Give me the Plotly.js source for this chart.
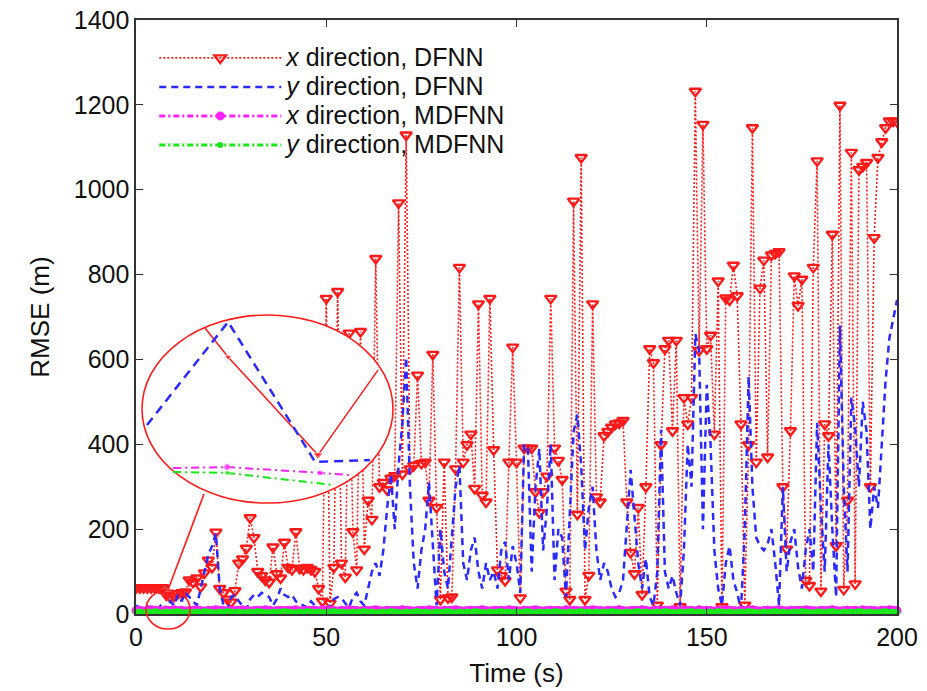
<!DOCTYPE html>
<html>
<head>
<meta charset="utf-8">
<script src="https://cdn.plot.ly/plotly-3.0.1.min.js"></script>
<style>html,body{margin:0;padding:0;background:#fff;}#chart{width:927px;height:691px;}</style>
</head>
<body>
<div id="chart"></div>
<script>
// Time axis: one sample per second, 0..200 s
const timeSec = Array.from({length: 201}, (_, i) => i);

// x direction, DFNN (RMSE, m)
const xDFNN = [
  62,62,62,62,62,62,62,62,45,40,
  42,48,50,52,80,75,85,64,97,127,
  110,193,60,50,35,28,55,120,130,155,
  227,180,100,90,80,75,158,95,85,169,
  110,105,194,108,105,110,105,100,60,30,
  744,25,110,760,120,87,662,194,104,666,
  153,268,223,838,300,310,293,320,326,969,
  330,1129,342,350,563,355,358,268,612,251,
  34,358,38,40,342,817,358,399,424,296,
  731,280,264,744,387,104,90,79,358,629,
  358,38,391,391,391,288,239,288,325,744,
  391,362,317,54,34,973,235,1076,34,91,
  731,276,264,420,430,440,448,450,456,264,
  145,95,251,46,300,625,592,21,399,625,
  645,432,645,17,510,448,510,1232,621,1154,
  625,657,424,785,17,745,740,822,750,448,
  21,399,1146,358,768,834,370,846,850,854,
  300,153,432,797,727,789,79,67,817,1068,
  54,448,420,895,161,1199,58,268,1088,71,
  1047,1055,1064,300,887,1076,1113,1146,1162,1162,
  1160
];

// y direction, DFNN (RMSE, m)
const yDFNN = [
  20,15,10,18,12,8,15,25,10,30,
  20,45,30,50,40,30,20,60,100,140,
  160,190,60,20,10,40,45,30,20,10,
  35,45,40,50,45,40,20,35,60,45,
  40,45,30,25,20,15,30,20,10,5,
  2,20,35,40,38,25,15,40,50,30,
  20,60,100,120,90,150,250,330,200,350,
  450,605,300,120,60,150,200,310,150,20,
  200,100,60,180,300,350,120,80,150,180,
  100,60,120,80,100,60,150,170,80,160,
  120,50,400,390,100,300,390,150,250,400,
  80,200,180,40,250,430,470,350,150,250,
  300,150,80,120,100,60,40,50,80,200,
  340,230,120,60,130,40,20,100,434,100,
  60,90,50,20,150,400,300,660,620,200,
  540,400,150,60,20,120,160,80,50,10,
  200,560,300,180,160,150,165,200,120,20,
  300,100,170,200,110,60,150,200,100,450,
  250,100,400,200,40,680,300,100,510,440,
  300,500,430,200,300,250,400,550,650,700,
  740
];

// x direction, MDFNN (RMSE, m)
const xMDFNN = [
  8,9,7,8,10,9,8,7,9,8,10,8,9,7,8,9,10,8,7,9,
  8,10,9,8,7,9,8,9,10,8,7,8,9,8,10,9,7,8,9,8,
  9,8,10,7,8,9,8,9,7,10,8,9,8,7,9,8,10,9,8,7,
  9,8,9,10,8,7,9,8,9,8,10,9,8,7,8,9,8,10,9,8,
  7,9,8,9,10,8,7,8,9,8,9,10,8,7,9,8,9,8,10,9,
  8,7,9,8,9,10,8,7,8,9,8,9,7,10,8,9,8,7,9,8,
  10,9,8,7,9,8,9,10,8,7,8,9,8,10,9,7,8,9,8,9,
  8,10,7,8,9,8,9,7,10,8,9,8,7,9,8,10,9,8,7,9,
  8,9,10,8,7,8,9,8,9,10,8,7,9,8,9,8,10,9,8,7,
  9,8,9,10,8,7,8,9,8,9,7,10,8,9,8,7,9,8,10,9,
  8
];

// y direction, MDFNN (RMSE, m)
const yMDFNN = [
  5,6,4,6,5,7,5,4,6,5,6,7,5,4,6,5,6,5,7,6,
  5,4,6,5,7,6,5,6,4,5,6,5,7,6,5,4,6,5,6,7,
  6,5,4,6,5,7,6,5,6,4,5,6,7,5,6,5,4,6,5,6,
  7,5,6,4,5,6,5,7,6,5,4,6,5,6,7,5,6,4,5,6,
  5,6,7,5,4,6,5,6,5,7,6,5,4,6,5,6,7,5,6,4,
  6,5,6,7,5,4,6,5,6,5,7,6,5,4,6,5,6,7,5,6,
  4,6,5,6,5,7,6,5,4,6,5,6,7,5,6,4,5,6,5,7,
  6,5,4,6,5,6,7,5,6,5,4,6,5,7,6,5,6,4,5,6,
  5,7,6,5,4,6,5,6,7,5,6,4,5,6,5,7,6,5,4,6,
  6,5,6,7,5,4,6,5,6,5,7,6,5,6,4,5,6,7,5,6,
  5
];

// Magnified inset (zoom lens), in inset-relative units 0..100
const insetRedX = [25.1, 34.3, 70.1, 94.0];
const insetRedY = [93.1, 77.7, 25.5, 70.7];
const insetBlueX = [2.0, 34.3, 69.0, 90.8];
const insetBlueY = [41.5, 96.3, 21.8, 22.9];
const insetMagX = [12.4, 33.9, 70.9, 82.9];
const insetMagY = [18.6, 19.1, 16.0, 14.9];
const insetGreenX = [12.4, 33.9, 76.1];
const insetGreenY = [16.5, 16.0, 9.6];

const names = [
  '<i>x</i> direction, DFNN',
  '<i>y</i> direction, DFNN',
  '<i>x</i> direction, MDFNN',
  '<i>y</i> direction, MDFNN'
];
const legendName = s => '<span style="font-size:25px">' + s + '</span>';

const RED = '#ff1a1a', BLUE = '#2a2aff', MAG = '#ff22ff', GRN = '#18e818';
const FONT = 'Liberation Sans, Arial, Helvetica, sans-serif';

const traces = [
  {x: timeSec, y: xDFNN, name: legendName(names[0]), type: 'scatter', mode: 'lines+markers',
   line: {color: RED, width: 1.6, dash: '2px,2px'},
   marker: {symbol: 'triangle-down-open', size: 10, color: RED, line: {color: RED, width: 2.4}}},
  {x: timeSec, y: yDFNN, name: legendName(names[1]), type: 'scatter', mode: 'lines',
   line: {color: BLUE, width: 2.5, dash: '7px,5px'}},
  {x: timeSec, y: xMDFNN, name: legendName(names[2]), type: 'scatter', mode: 'lines+markers', cliponaxis: false,
   line: {color: MAG, width: 3, dash: '6px,3px,2px,3px'},
   marker: {symbol: 'circle', size: 9, color: MAG}},
  {x: timeSec, y: yMDFNN, name: legendName(names[3]), type: 'scatter', mode: 'lines+markers', cliponaxis: false,
   line: {color: GRN, width: 3, dash: '6px,3px,2px,3px'},
   marker: {symbol: 'circle', size: 6, color: GRN}},
  // inset traces
  {x: insetRedX, y: insetRedY, xaxis: 'x2', yaxis: 'y2', type: 'scatter', mode: 'lines+markers', showlegend: false,
   line: {color: RED, width: 1.5}, marker: {symbol: 'triangle-down', size: [0, 7, 9, 0], color: RED}},
  {x: insetBlueX, y: insetBlueY, xaxis: 'x2', yaxis: 'y2', type: 'scatter', mode: 'lines', showlegend: false,
   line: {color: BLUE, width: 2.5, dash: '9px,6px'}},
  {x: insetMagX, y: insetMagY, xaxis: 'x2', yaxis: 'y2', type: 'scatter', mode: 'lines+markers', showlegend: false,
   line: {color: MAG, width: 2, dash: '8px,4px,2px,4px'}, marker: {symbol: 'circle', size: [0, 7, 6, 0], color: MAG}},
  {x: insetGreenX, y: insetGreenY, xaxis: 'x2', yaxis: 'y2', type: 'scatter', mode: 'lines+markers', showlegend: false,
   line: {color: GRN, width: 2, dash: '8px,4px,2px,4px'}, marker: {symbol: 'circle', size: [0, 5, 0], color: GRN}}
];

const L = 136, R = 897, T = 20, B = 614, W = 927, H = 691;
const pw = R - L, ph = B - T;
const px2paper = p => (p - L) / pw;
const py2paper = p => (B - p) / ph;
// inset: units 0..100 map to ellipse box px 142..393, py 503..315; add 2-unit margin
const ixPx = u => 142 + u * (393 - 142) / 100;
const iyPx = w => 503 - w * (503 - 315) / 100;

const layout = {
  width: W, height: H,
  margin: {l: L, r: W - R, t: T, b: H - B, pad: 0},
  paper_bgcolor: '#ffffff', plot_bgcolor: 'rgba(0,0,0,0)',
  font: {family: FONT, color: '#111', size: 25},
  showlegend: true,
  legend: {x: 0.024, y: 0.969, xanchor: 'left', yanchor: 'top', bgcolor: 'rgba(0,0,0,0)',
           font: {family: FONT, size: 20, color: '#111'}, itemwidth: 122, tracegroupgap: 0},
  xaxis: {range: [0, 200], tickvals: [0, 50, 100, 150, 200], ticks: 'inside', ticklen: 7, tickwidth: 1.2,
          tickcolor: '#333', showline: true, linecolor: '#333', linewidth: 1.6, mirror: 'ticks',
          showgrid: false, zeroline: false, tickfont: {family: FONT, size: 25, color: '#111'},
          title: {text: 'Time (s)', font: {family: FONT, size: 26, color: '#111'}, standoff: 14}},
  yaxis: {range: [0, 1400], dtick: 200, ticks: 'inside', ticklen: 7, tickwidth: 1.2,
          tickcolor: '#333', showline: true, linecolor: '#333', linewidth: 1.6, mirror: 'ticks',
          showgrid: false, zeroline: false, tickfont: {family: FONT, size: 25, color: '#111'},
          title: {text: 'RMSE (m)', font: {family: FONT, size: 26, color: '#111'}, standoff: 16}},
  xaxis2: {domain: [px2paper(ixPx(-2)), px2paper(ixPx(102))], range: [-2, 102], visible: false, anchor: 'y2', fixedrange: true},
  yaxis2: {domain: [py2paper(iyPx(-2)), py2paper(iyPx(102))], range: [-2, 102], visible: false, anchor: 'x2', fixedrange: true},
  shapes: [
    // lens: white-filled ellipse drawn in the inset subplot, above the main traces, below inset traces
    {type: 'circle', xref: 'x2', yref: 'y2', layer: 'below',
     x0: 0, x1: 100, y0: 0, y1: 100,
     fillcolor: '#ffffff', line: {color: RED, width: 1.6}},
    {type: 'circle', xref: 'paper', yref: 'paper', layer: 'above',
     x0: px2paper(146), x1: px2paper(190), y0: py2paper(629), y1: py2paper(590),
     line: {color: RED, width: 1.6}},
    {type: 'line', xref: 'paper', yref: 'paper', layer: 'above',
     x0: px2paper(168), y0: py2paper(590), x1: px2paper(204), y1: py2paper(494),
     line: {color: RED, width: 1.6}}
  ]
};

Plotly.newPlot('chart', traces, layout, {displayModeBar: false, staticPlot: true});
</script>
</body>
</html>
